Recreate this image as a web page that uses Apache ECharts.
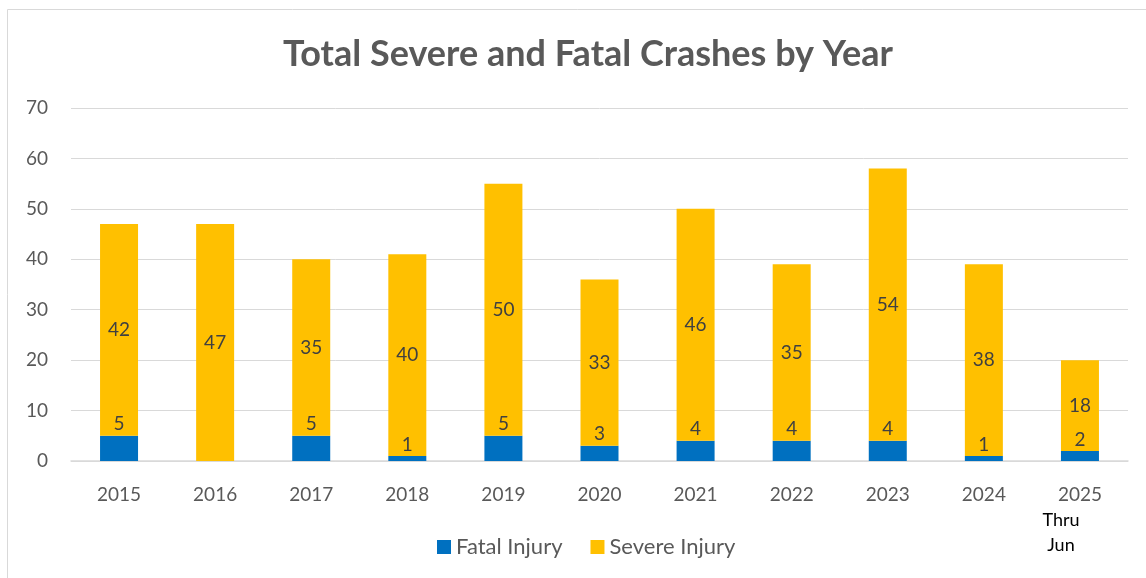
<!DOCTYPE html>
<html>
<head>
<meta charset="utf-8">
<script src="https://cdn.jsdelivr.net/npm/echarts@6/dist/echarts.min.js"></script>
<style>
  html, body { margin: 0; padding: 0; background: #fff; }
  #crashChart { width: 1146px; height: 578px; }
</style>
</head>
<body>
<div id="crashChart"></div>
<script>
// data
const years = ['2015', '2016', '2017', '2018', '2019', '2020', '2021', '2022', '2023', '2024', '2025']
const fatalInjury = [5, 0, 5, 1, 5, 3, 4, 4, 4, 1, 2]
const severeInjury = [42, 47, 35, 40, 50, 33, 46, 35, 54, 38, 18]
const yTicks = [0, 10, 20, 30, 40, 50, 60, 70]

const chart = echarts.init(document.getElementById('crashChart'))
const font = 'Lato, "Open Sans", sans-serif'

const option = {
  animation: false,
  textStyle: { fontFamily: font },
  graphic: [
    {
      type: 'rect',
      shape: { x: 7.5, y: 9.5, width: 1160, height: 600 },
      style: { fill: 'none', stroke: '#d9d9d9', lineWidth: 1 },
      silent: true
    }
  ],
  title: {
    text: 'Total Severe and Fatal Crashes by Year',
    left: 278,
    top: 31,
    textStyle: { fontFamily: font, fontSize: 36, fontWeight: 'bold', color: '#595959' }
  },
  legend: {
    data: ['Fatal Injury', 'Severe Injury'],
    bottom: 15,
    left: 432,
    itemWidth: 14,
    itemHeight: 14,
    itemGap: 28,
    icon: 'rect',
    textStyle: { fontFamily: font, fontSize: 22, color: '#595959' }
  },
  grid: { left: 71, right: 18, top: 108, bottom: 117 },
  xAxis: {
    type: 'category',
    data: years,
    axisLine: { lineStyle: { color: '#d9d9d9', width: 1.5 } },
    axisTick: { show: false },
    axisLabel: {
      interval: 0,
      margin: 21,
      fontSize: 19,
      color: '#595959',
      lineHeight: 26,
      formatter: function (v) {
        return v === '2025' ? v + '\n{sub|Thru}\n{sub|Jun}' : v
      },
      rich: {
        sub: { fontSize: 18, color: '#000', lineHeight: 25, padding: [0, 38, 0, 0], fontFamily: font }
      }
    }
  },
  yAxis: {
    type: 'value',
    min: yTicks[0],
    max: yTicks[yTicks.length - 1],
    interval: 10,
    axisLine: { show: false },
    axisTick: { show: false },
    splitLine: { lineStyle: { color: '#d9d9d9', width: 1 } },
    axisLabel: { fontSize: 19, color: '#595959', margin: 23 }
  },
  series: [
    {
      name: 'Fatal Injury',
      type: 'bar',
      stack: 'total',
      barWidth: 38,
      itemStyle: { color: '#0070c0' },
      label: {
        show: true,
        position: 'top',
        distance: 2,
        fontSize: 19,
        color: '#404040',
        formatter: function (p) { return p.value ? p.value : '' }
      },
      data: fatalInjury
    },
    {
      name: 'Severe Injury',
      type: 'bar',
      stack: 'total',
      barWidth: 38,
      itemStyle: { color: '#ffc000' },
      label: {
        show: true,
        position: 'inside',
        fontSize: 19,
        color: '#404040'
      },
      data: severeInjury
    }
  ]
}

chart.setOption(option)
</script>
</body>
</html>
